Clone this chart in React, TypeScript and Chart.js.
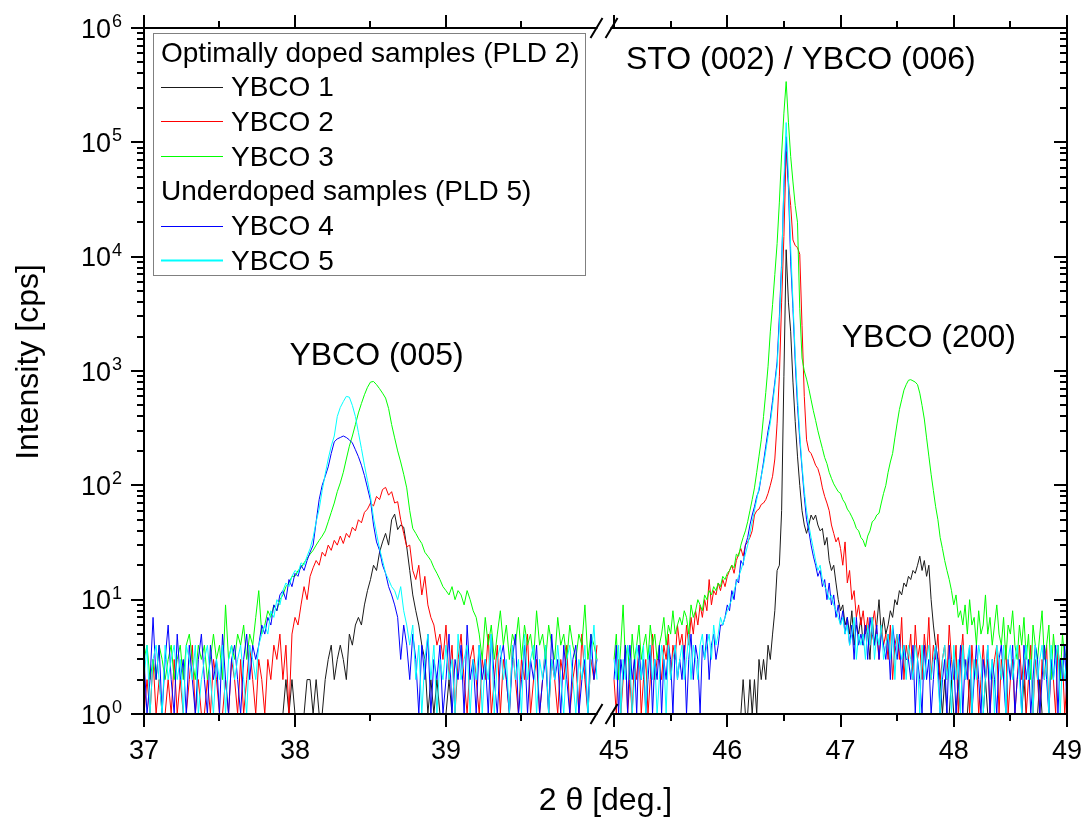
import React, { useEffect, useRef } from 'react';
import { Chart, registerables } from 'chart.js';

Chart.register(...registerables);

const FONT = '"Liberation Sans", Arial, Helvetica, sans-serif';

// ---- scan grid (2θ in degrees) ----
const SCAN_STEP = 0.02;
const LEFT_SCAN_START = 37.0;
const RIGHT_SCAN_START = 45.0;

// ---- broken x axis ----
const X_LEFT_MIN = 37;
const X_LEFT_MAX = 40.02;
const X_RIGHT_MIN = 44.876;
const X_RIGHT_MAX = 49;
const X_MAJOR_LEFT = [37, 38, 39];
const X_LABELS_LEFT = ['37', '38', '39'];
const X_MINOR_LEFT = [37.5, 38.5, 39.5];
const X_MAJOR_RIGHT = [45, 46, 47, 48, 49];
const X_LABELS_RIGHT = ['45', '46', '47', '48', '49'];
const X_MINOR_RIGHT = [45.5, 46.5, 47.5, 48.5];

// ---- log y axis ----
const Y_MIN = 1;
const Y_MAX = 1e6;
const Y_DECADES = [1, 10, 100, 1000, 10000, 100000, 1000000];
const Y_LABEL_BASE = '10';
const Y_LABEL_EXP = ['0', '1', '2', '3', '4', '5', '6'];
const Y_MINOR_FACTORS = [2, 3, 4, 5, 6, 7, 8, 9];

const X_TITLE = '2 θ [deg.]';
const Y_TITLE = 'Intensity [cps]';

// ---- series ----
const SERIES_NAMES = ['YBCO 1', 'YBCO 2', 'YBCO 3', 'YBCO 4', 'YBCO 5'];
const SERIES_COLORS = ['#1a1a1a', '#ff0000', '#00ff00', '#0000ff', '#00ffff'];
const LEGEND_GROUPS = ['Optimally doped samples (PLD 2)', 'Underdoped samples (PLD 5)'];

// peak labels (anchored in data coordinates)
const PEAK_LABEL_TEXT = ['YBCO (005)', 'STO (002) / YBCO (006)', 'YBCO (200)'];
const PEAK_LABEL_AXIS = ['xL', 'xR', 'xR'];
const PEAK_LABEL_X = [38.54, 46.65, 47.78];
const PEAK_LABEL_Y = [1130, 440000, 1620];

// 37.00 ... 40.00 (151 points)
const YBCO1_LEFT = [
  1,1,1,1,1,1,1,1,1,1,
  1,1,1,1,1,1,1,1,1,1,
  1,1,1,1,1,1,1,1,1,1,
  1,1,1,1,1,1,1,1,1,1,
  1,1,1,1,1,1,1,2,1,2,
  1,1,1,1,2,2,1,2,1,1,
  2,3,4,2,3,4,3,2,5,4,
  6,7,6,9,12,15,20,18,26,32,
  38,30,50,56,41,45,43,29,18,11,
  8,6,4,3,1,2,1,2,1,1,
  1,2,1,1,1,1,1,1,1,1,
  1,1,1,1,1,1,1,1,1,1,
  1,1,1,1,1,1,1,1,1,1,
  1,1,1,1,1,1,1,1,1,1,
  1,1,1,1,1,1,1,1,1,1,
  1,
];
const YBCO2_LEFT = [
  1,2,1,3,1,2,1,1,2,1,
  3,1,2,1,1,2,4,1,2,1,
  1,2,1,3,2,1,1,2,1,3,
  2,1,3,1,2,4,2,1,3,2,
  1,3,2,4,3,5,2,4,1,5,
  7,6,9,13,10,16,19,22,20,26,
  24,30,27,33,30,36,31,38,35,43,
  40,50,47,58,62,70,66,80,75,92,
  96,82,88,70,72,50,38,29,30,18,
  15,20,11,16,9,7,6,4,5,3,
  6,2,4,1,3,5,2,1,3,4,
  2,1,3,2,5,1,2,4,1,3,
  2,1,4,2,1,3,2,5,1,2,
  3,1,2,4,1,3,2,1,3,2,
  4,1,2,3,1,5,2,1,3,2,
  4,
];
const YBCO3_LEFT = [
  3,4,2,3,2,4,3,2,3,4,
  2,3,4,2,4,5,3,2,4,3,
  4,2,3,5,3,4,2,9,3,4,
  3,5,4,6,3,5,4,7,12,5,
  6,8,7,9,8,10,11,13,14,16,
  16,18,19,21,23,25,27,30,33,36,
  40,48,58,70,88,105,130,170,220,270,
  340,430,520,620,720,800,810,760,700,640,
  580,470,340,260,200,160,125,95,60,42,
  38,34,31,26,24,22,19,17,15,13,
  12,11,13,10,12,11,9,12,10,8,
  7,5,3,7,4,6,3,5,8,4,
  6,3,5,4,7,3,6,4,5,3,
  8,4,5,3,6,4,3,7,4,5,
  3,6,4,3,5,4,9,3,5,4,
  3,
];
const YBCO4_LEFT = [
  3,1,2,7,2,4,1,3,6,2,
  1,5,2,3,1,4,2,1,3,5,
  2,1,4,2,3,1,5,2,1,3,
  4,2,1,3,5,2,4,3,4,6,
  5,7,6,9,8,11,12,10,15,13,
  17,16,20,18,22,26,30,48,75,100,
  120,145,190,240,255,262,270,262,250,235,
  205,178,150,122,95,74,45,32,27,20,
  17,13,11,9,7,3,6,4,2,5,
  3,1,4,2,5,1,3,2,4,1,
  2,5,1,3,2,4,1,6,2,3,
  1,4,2,3,1,5,2,1,3,4,
  2,1,3,5,1,2,4,1,3,2,
  4,1,2,3,1,5,2,3,1,4,
  2,1,3,4,1,2,3,1,5,2,
  3,
];
const YBCO5_LEFT = [
  2,4,1,3,4,2,1,4,2,3,
  4,2,3,1,4,3,2,4,1,2,
  3,4,2,1,3,2,4,1,3,4,
  2,3,4,2,1,4,3,2,4,5,
  6,5,8,7,10,9,12,14,13,16,
  18,17,21,20,24,28,35,48,62,90,
  125,170,220,270,400,480,540,600,590,500,
  400,290,210,150,110,80,52,38,28,22,
  17,15,13,12,10,13,8,6,4,6,
  2,4,1,3,5,2,4,1,3,2,
  4,2,3,1,5,2,3,4,1,3,
  2,4,1,3,2,5,1,3,4,2,
  3,1,4,2,3,1,5,2,3,4,
  1,3,2,4,1,3,2,4,2,1,
  3,4,2,1,3,2,4,1,3,6,
  2,
];

// 45.00 ... 49.00 (201 points)
const YBCO1_RIGHT = [
  1,1,1,1,1,1,1,1,1,1,
  1,1,1,1,1,1,1,1,1,1,
  1,1,1,1,1,1,1,1,1,1,
  1,1,1,1,1,1,1,1,1,1,
  1,1,1,1,1,1,1,1,1,1,
  1,1,1,1,1,1,1,2,1,1,
  2,1,2,1,3,2,3,2,4,3,
  5,8,18,20,60,900,11500,4000,2200,800,
  360,180,100,60,45,38,45,55,50,55,
  45,40,42,30,35,22,18,20,14,10,
  8,9,6,7,5,8,4,6,5,7,
  4,6,5,3,7,4,6,10,5,7,
  5,6,8,7,10,9,12,11,14,13,
  16,15,18,17,20,24,18,22,16,20,
  10,6,4,3,2,1,2,1,1,2,
  1,1,2,1,1,1,1,2,1,1,
  1,1,1,1,2,1,1,1,1,1,
  1,1,1,1,1,1,1,1,1,1,
  1,2,1,1,1,1,1,1,2,1,
  1,1,1,1,1,1,1,1,1,1,
  1,
];
const YBCO2_RIGHT = [
  2,1,3,1,2,4,1,2,1,3,
  2,4,1,2,3,1,2,5,2,3,
  3,2,4,3,5,2,4,3,6,4,
  5,3,6,4,7,5,8,6,9,7,
  10,8,15,9,12,11,14,12,15,13,
  16,18,20,17,22,25,28,24,30,32,
  35,40,55,60,62,68,70,75,85,100,
  120,170,350,900,4000,15000,83000,45000,28000,14000,
  12500,12000,10500,2500,600,250,200,190,170,150,
  140,120,95,80,70,60,45,38,32,35,
  28,20,32,14,18,10,12,7,9,6,
  8,5,7,4,6,8,5,3,6,4,
  5,3,6,2,4,5,3,7,2,4,
  3,5,2,6,3,4,2,5,3,7,
  2,4,3,5,2,3,4,2,6,3,
  2,4,1,3,5,2,3,1,4,2,
  3,1,2,4,2,3,1,2,3,4,
  1,3,2,4,1,2,3,1,2,4,
  2,3,1,2,4,1,3,2,1,3,
  2,4,1,3,2,1,4,2,3,1,
  2,
];
const YBCO3_RIGHT = [
  3,5,2,4,9,3,4,2,5,3,
  4,6,3,4,5,3,6,4,5,3,
  4,5,7,4,6,5,8,5,6,7,
  6,8,7,5,9,7,8,10,9,8,
  11,10,12,11,13,12,14,13,16,15,
  17,18,20,19,25,24,30,35,40,48,
  60,75,95,130,180,250,400,650,1100,2200,
  3800,7000,13000,30000,79000,180000,340000,150000,75000,45000,
  28000,20000,3500,1300,1000,850,700,560,450,370,
  300,250,210,175,155,130,115,103,95,88,
  85,75,70,62,58,53,48,42,40,35,
  33,29,36,40,48,50,55,57,70,85,
  100,130,160,190,260,350,460,560,680,760,
  830,840,820,800,760,640,500,380,260,180,
  125,90,65,50,35,28,22,18,15,12,
  9,11,7,8,6,9,5,10,6,7,
  4,8,5,6,11,5,7,4,6,9,
  5,4,7,3,6,5,8,4,3,6,
  4,7,3,5,2,6,4,3,5,8,
  3,4,6,2,5,3,4,2,5,3,
  4,
];
const YBCO4_RIGHT = [
  2,4,1,3,2,4,1,4,2,3,
  1,4,2,3,1,2,4,1,3,2,
  4,1,3,2,4,3,1,4,2,3,
  2,4,1,3,5,2,4,3,1,4,
  3,5,2,4,5,3,4,6,6,7,
  9,8,12,10,15,14,22,20,30,35,
  45,55,65,80,90,120,160,220,300,380,
  550,800,1200,3000,9000,40000,112000,40000,9000,3500,
  1200,500,250,140,80,50,40,30,24,20,
  16,18,13,15,10,14,9,11,7,9,
  6,8,5,7,4,6,3,7,4,5,
  4,6,3,7,5,4,6,3,5,4,
  3,5,2,6,4,3,5,2,4,3,
  3,2,4,1,3,2,1,4,2,3,
  1,2,4,3,1,2,3,1,4,2,
  3,1,2,4,1,3,2,4,1,2,
  4,2,1,3,2,4,1,3,2,1,
  3,4,2,1,3,2,4,1,2,3,
  1,4,2,3,1,2,4,3,1,2,
  4,2,1,3,2,4,1,3,2,4,
  1,
];
const YBCO5_RIGHT = [
  3,2,4,1,3,2,4,3,1,2,
  4,3,2,4,1,3,4,2,3,1,
  2,4,3,1,4,2,3,4,2,3,
  4,2,3,5,2,4,3,2,4,5,
  3,4,5,3,6,4,5,7,6,7,
  8,9,10,12,14,16,18,21,25,30,
  38,48,60,75,95,120,150,200,270,350,
  500,750,1100,2500,8000,45000,149000,50000,12000,4000,
  1400,600,280,150,90,60,45,35,28,22,
  18,20,15,13,12,10,11,9,8,7,
  6,7,5,6,4,5,7,3,5,4,
  5,3,6,4,7,3,5,4,6,3,
  4,5,3,6,2,5,4,3,4,2,
  4,3,2,4,3,1,4,2,3,4,
  2,3,4,2,1,3,4,2,3,1,
  4,2,3,1,4,2,3,4,1,3,
  2,4,3,1,2,4,2,3,1,4,
  3,2,4,1,3,4,2,3,4,2,
  1,3,4,2,3,1,4,2,3,4,
  2,3,1,4,2,3,4,1,3,2,
  3,
];

const SERIES_LEFT = [YBCO1_LEFT, YBCO2_LEFT, YBCO3_LEFT, YBCO4_LEFT, YBCO5_LEFT];
const SERIES_RIGHT = [YBCO1_RIGHT, YBCO2_RIGHT, YBCO3_RIGHT, YBCO4_RIGHT, YBCO5_RIGHT];

const X_LEFT = YBCO1_LEFT.map((_, i) => +(LEFT_SCAN_START + i * SCAN_STEP).toFixed(2));
const X_RIGHT = YBCO1_RIGHT.map((_, i) => +(RIGHT_SCAN_START + i * SCAN_STEP).toFixed(2));

const decorPlugin = {
  id: 'decor',
  afterDraw(chart: any) {
    const { ctx, chartArea: ca, scales } = chart;
    const xL = scales.xL;
    const xR = scales.xR;
    const y = scales.y;
    ctx.save();

    // ---- legend ----
    const lx = ca.left + 9;
    const ly = ca.top + 5;
    const lw = 432;
    const lh = 242;
    ctx.fillStyle = '#ffffff';
    ctx.fillRect(lx, ly, lw, lh);
    ctx.strokeStyle = '#808080';
    ctx.lineWidth = 1;
    ctx.strokeRect(lx + 0.5, ly + 0.5, lw, lh);
    const rows: Array<{ g?: number; s?: number }> = [
      { g: 0 }, { s: 0 }, { s: 1 }, { s: 2 }, { g: 1 }, { s: 3 }, { s: 4 },
    ];
    ctx.font = `28px ${FONT}`;
    ctx.textAlign = 'left';
    ctx.textBaseline = 'alphabetic';
    rows.forEach((r, k) => {
      const base = ca.top + 33.5 + k * 34.7;
      ctx.fillStyle = '#000';
      if (r.g !== undefined) {
        ctx.fillText(LEGEND_GROUPS[r.g], lx + 8, base);
      } else if (r.s !== undefined) {
        ctx.strokeStyle = SERIES_COLORS[r.s];
        ctx.lineWidth = r.s === 4 ? 2 : 1;
        ctx.beginPath();
        const ly2 = Math.round(base - 9.5) + 0.5;
        ctx.moveTo(lx + 8, ly2);
        ctx.lineTo(lx + 70, ly2);
        ctx.stroke();
        ctx.fillText(SERIES_NAMES[r.s], lx + 78, base);
      }
    });

    // ---- peak labels ----
    ctx.font = `32px ${FONT}`;
    ctx.textAlign = 'center';
    ctx.fillStyle = '#000';
    PEAK_LABEL_TEXT.forEach((t, k) => {
      const px = scales[PEAK_LABEL_AXIS[k]].getPixelForValue(PEAK_LABEL_X[k]);
      const py = y.getPixelForValue(PEAK_LABEL_Y[k]);
      ctx.fillText(t, px, py);
    });

    // ---- y tick labels (10 with superscript exponent) ----
    Y_DECADES.forEach((d, k) => {
      const py = y.getPixelForValue(d);
      const xr = ca.left - 33;
      ctx.textAlign = 'right';
      ctx.font = `27px ${FONT}`;
      ctx.fillText(Y_LABEL_BASE, xr, py + 9.5);
      ctx.textAlign = 'left';
      ctx.font = `18px ${FONT}`;
      ctx.fillText(Y_LABEL_EXP[k], xr + 1, py - 1);
    });

    // ---- frame ----
    const s1 = xL.right - 3.5;
    const s2 = xR.getPixelForValue(45) - 2.5;
    ctx.strokeStyle = '#000';
    ctx.lineWidth = 2;
    ctx.lineCap = 'square';
    ctx.beginPath();
    ctx.moveTo(ca.left, ca.top);
    ctx.lineTo(ca.left, ca.bottom);
    ctx.moveTo(ca.right, ca.top);
    ctx.lineTo(ca.right, ca.bottom);
    for (const yy of [ca.top, ca.bottom]) {
      ctx.moveTo(ca.left, yy);
      ctx.lineTo(s1, yy);
      ctx.moveTo(s2, yy);
      ctx.lineTo(ca.right, yy);
    }
    ctx.stroke();
    ctx.lineCap = 'butt';

    // break marks
    ctx.beginPath();
    for (const yy of [ca.top, ca.bottom]) {
      for (const cx of [s1, s2]) {
        ctx.moveTo(cx - 6, yy + 10);
        ctx.lineTo(cx + 6, yy - 10);
      }
    }
    ctx.stroke();

    // x ticks (bottom outward, top outward)
    const MAJ = 13;
    const MIN = 7;
    ctx.beginPath();
    const xt = (sc: any, vals: number[], len: number) => {
      vals.forEach((v) => {
        const px = Math.round(sc.getPixelForValue(v));
        ctx.moveTo(px, ca.bottom);
        ctx.lineTo(px, ca.bottom + len);
        ctx.moveTo(px, ca.top);
        ctx.lineTo(px, ca.top - len);
      });
    };
    xt(xL, X_MAJOR_LEFT, MAJ);
    xt(xL, X_MINOR_LEFT, MIN);
    xt(xR, X_MAJOR_RIGHT, MAJ);
    xt(xR, X_MINOR_RIGHT, MIN);
    // y ticks (left outward, right inward)
    Y_DECADES.forEach((d, k) => {
      const py = Math.round(y.getPixelForValue(d));
      ctx.moveTo(ca.left, py);
      ctx.lineTo(ca.left - MAJ, py);
      ctx.moveTo(ca.right, py);
      ctx.lineTo(ca.right - MAJ, py);
      if (k < Y_DECADES.length - 1) {
        Y_MINOR_FACTORS.forEach((f) => {
          const pm = Math.round(y.getPixelForValue(d * f));
          ctx.moveTo(ca.left, pm);
          ctx.lineTo(ca.left - MIN, pm);
          ctx.moveTo(ca.right, pm);
          ctx.lineTo(ca.right - MIN, pm);
        });
      }
    });
    ctx.stroke();

    // ---- axis titles ----
    ctx.fillStyle = '#000';
    ctx.font = `32px ${FONT}`;
    ctx.textAlign = 'center';
    ctx.textBaseline = 'alphabetic';
    ctx.fillText(X_TITLE, (ca.left + ca.right) / 2, ca.bottom + 96);
    ctx.save();
    ctx.translate(ca.left - 106, (ca.top + ca.bottom) / 2 - 9);
    ctx.rotate(-Math.PI / 2);
    ctx.fillText(Y_TITLE, 0, 0);
    ctx.restore();

    ctx.restore();
  },
};

export default function App() {
  const canvasRef = useRef<HTMLCanvasElement | null>(null);

  useEffect(() => {
    if (!canvasRef.current) return;
    const datasets: any[] = [];
    SERIES_NAMES.forEach((name, k) => {
      const common = {
        label: name,
        yAxisID: 'y',
        borderColor: SERIES_COLORS[k],
        backgroundColor: SERIES_COLORS[k],
        borderWidth: 1,
        pointRadius: 0,
        fill: false,
        tension: 0,
        order: SERIES_NAMES.length - 1 - k,
      };
      datasets.push({
        ...common,
        xAxisID: 'xL',
        data: SERIES_LEFT[k].map((v, i) => ({ x: X_LEFT[i], y: v })),
      });
      datasets.push({
        ...common,
        xAxisID: 'xR',
        data: SERIES_RIGHT[k].map((v, i) => ({ x: X_RIGHT[i], y: v })),
      });
    });

    const xTickFont = { family: FONT, size: 27 };
    const chart = new Chart(canvasRef.current, {
      type: 'line',
      data: { datasets },
      plugins: [decorPlugin],
      options: {
        animation: false,
        responsive: true,
        maintainAspectRatio: false,
        devicePixelRatio: 1,
        events: [],
        layout: { padding: { top: 28, right: 17, bottom: 0, left: 0 } },
        plugins: {
          legend: { display: false },
          tooltip: { enabled: false },
        },
        scales: {
          xL: {
            type: 'linear',
            position: 'bottom',
            stack: 'twotheta',
            stackWeight: 456,
            min: X_LEFT_MIN,
            max: X_LEFT_MAX,
            grid: { display: false, drawTicks: false },
            border: { display: false },
            ticks: {
              autoSkip: false,
              maxRotation: 0,
              minRotation: 0,
              padding: 21,
              color: '#000',
              font: xTickFont,
              callback: (_v: any, i: number) => X_LABELS_LEFT[i],
            },
            afterBuildTicks: (s: any) => {
              s.ticks = X_MAJOR_LEFT.map((v) => ({ value: v }));
            },
            afterFit: (s: any) => {
              s.height = 104;
              s.paddingLeft = 0;
              s.paddingRight = 0;
            },
          },
          xR: {
            type: 'linear',
            position: 'bottom',
            stack: 'twotheta',
            stackWeight: 467,
            min: X_RIGHT_MIN,
            max: X_RIGHT_MAX,
            grid: { display: false, drawTicks: false },
            border: { display: false },
            ticks: {
              autoSkip: false,
              maxRotation: 0,
              minRotation: 0,
              padding: 21,
              color: '#000',
              font: xTickFont,
              callback: (_v: any, i: number) => X_LABELS_RIGHT[i],
            },
            afterBuildTicks: (s: any) => {
              s.ticks = X_MAJOR_RIGHT.map((v) => ({ value: v }));
            },
            afterFit: (s: any) => {
              s.height = 104;
              s.paddingLeft = 0;
              s.paddingRight = 0;
            },
          },
          y: {
            type: 'logarithmic',
            position: 'left',
            min: Y_MIN,
            max: Y_MAX,
            grid: { display: false, drawTicks: false },
            border: { display: false },
            ticks: { display: false },
            afterBuildTicks: (s: any) => {
              s.ticks = Y_DECADES.map((v) => ({ value: v }));
            },
            afterFit: (s: any) => {
              s.width = 144;
              s.paddingTop = 0;
              s.paddingBottom = 0;
            },
          },
        },
      } as any,
    });
    return () => chart.destroy();
  }, []);

  return (
    <div style={{ position: 'absolute', left: 0, top: 0, width: 1084, height: 818, background: '#fff' }}>
      <canvas ref={canvasRef} />
    </div>
  );
}
